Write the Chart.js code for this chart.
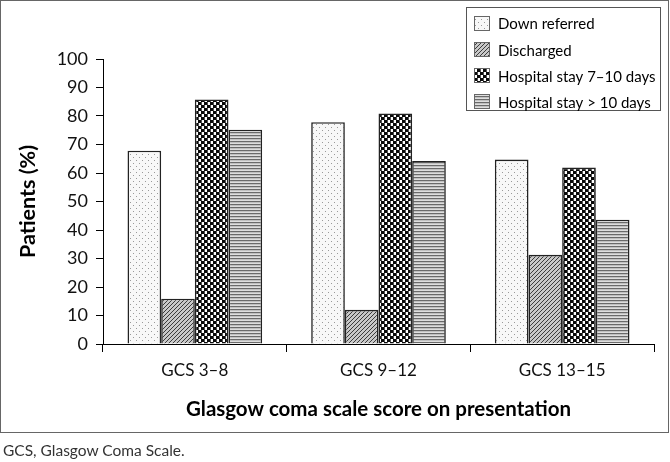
<!DOCTYPE html>
<html>
<head>
<meta charset="utf-8">
<script src="https://cdn.jsdelivr.net/npm/chart.js@4"></script>
<style>
  html, body { margin: 0; padding: 0; background: #fff; }
  #wrap { position: relative; width: 670px; height: 462px; overflow: hidden; }
  #frame { position: absolute; left: 0; top: 0; width: 667px; height: 431px; border: 1px solid #666; box-sizing: content-box; }
  #c { position: absolute; left: 0; top: 0; }
  #note { position: absolute; left: 3px; top: 441px; font: 15.5px Lato, sans-serif; color: #333; white-space: nowrap; }
</style>
</head>
<body>
<div id="wrap">
  <div id="frame"></div>
  <canvas id="c" width="670" height="462"></canvas>
  <div id="note">GCS, Glasgow Coma Scale.</div>
</div>
<script>
const categories = ['GCS 3–8', 'GCS 9–12', 'GCS 13–15'];
const seriesLabels = ['Down referred', 'Discharged', 'Hospital stay 7–10 days', 'Hospital stay > 10 days'];
const downReferred = [67.8, 77.8, 64.7];
const discharged = [15.9, 12.0, 31.3];
const stay7to10 = [85.8, 80.9, 61.9];
const stayOver10 = [75.2, 64.2, 43.6];
const yAxisTitle = 'Patients (%)';
const xAxisTitle = 'Glasgow coma scale score on presentation';

function makePattern(w, h, draw) {
  const cv = document.createElement('canvas');
  cv.width = w; cv.height = h;
  const g = cv.getContext('2d');
  draw(g);
  return document.getElementById('c').getContext('2d').createPattern(cv, 'repeat');
}
const patDots = makePattern(6, 6, g => {
  g.fillStyle = '#f8f8f8'; g.fillRect(0, 0, 6, 6);
  g.fillStyle = '#9a9a9a'; g.fillRect(1, 1, 1, 1); g.fillRect(4, 4, 1, 1);
});
const patDiag = makePattern(4, 4, g => {
  g.fillStyle = '#c8c8c8'; g.fillRect(0, 0, 4, 4);
  g.fillStyle = '#3c3c3c';
  g.fillRect(3, 0, 1, 1); g.fillRect(2, 1, 1, 1); g.fillRect(1, 2, 1, 1); g.fillRect(0, 3, 1, 1);
});
const patCheck = makePattern(6, 6, g => {
  g.fillStyle = '#ffffff'; g.fillRect(0, 0, 6, 6);
  g.fillStyle = '#0a0a0a'; g.fillRect(0, 0, 3, 3); g.fillRect(3, 3, 3, 3);
  g.fillStyle = '#555'; g.fillRect(0, 3, 1, 3); g.fillRect(3, 0, 1, 3);
});
const patHoriz = makePattern(1, 3, g => {
  g.fillStyle = '#6a6a6a'; g.fillRect(0, 0, 1, 1);
  g.fillStyle = '#c0c0c0'; g.fillRect(0, 1, 1, 1);
  g.fillStyle = '#dedede'; g.fillRect(0, 2, 1, 1);
});
const patterns = [patDots, patDiag, patCheck, patHoriz];
const seriesValues = [downReferred, discharged, stay7to10, stayOver10];

const boxLegend = {
  id: 'boxLegend',
  afterDraw(chart) {
    const ctx = chart.ctx;
    const x0 = 466.5, y0 = 7.5, w = 194, h = 103;
    ctx.save();
    ctx.fillStyle = '#fff';
    ctx.fillRect(x0, y0, w, h);
    ctx.strokeStyle = '#555'; ctx.lineWidth = 1;
    ctx.strokeRect(x0, y0, w, h);
    ctx.font = '15px Lato, sans-serif';
    ctx.textBaseline = 'middle';
    chart.data.datasets.forEach((ds, i) => {
      const cy = 23.5 + i * 26.2;
      ctx.fillStyle = ds.backgroundColor;
      ctx.fillRect(474, Math.round(cy - 8), 16, 15);
      ctx.strokeStyle = '#666';
      ctx.strokeRect(474.5, Math.round(cy - 8) + 0.5, 15, 14);
      ctx.fillStyle = '#000';
      ctx.fillText(ds.label, 498, cy + 1);
    });
    ctx.restore();
  }
};

new Chart(document.getElementById('c'), {
  type: 'bar',
  data: {
    labels: categories,
    datasets: seriesLabels.map((lab, i) => ({
      label: lab,
      data: seriesValues[i],
      backgroundColor: patterns[i],
      borderColor: '#222',
      borderWidth: 1.6,
      borderSkipped: 'bottom',
      categoryPercentage: 0.733,
      barPercentage: 1.0
    }))
  },
  options: {
    responsive: false,
    animation: false,
    devicePixelRatio: 1,
    layout: { padding: { top: 59, right: 16, bottom: 0, left: 0 } },
    plugins: { legend: { display: false }, tooltip: { enabled: false } },
    scales: {
      x: {
        afterFit(s) { s.height = 118; },
        grid: { display: true, drawOnChartArea: false, drawTicks: true, tickLength: 8, color: '#000', lineWidth: 1, offset: true },
        border: { display: true, color: '#000', width: 1 },
        ticks: { color: '#111', font: { family: 'Lato', size: 17 }, padding: 8 },
        title: { display: true, text: xAxisTitle, color: '#000', font: { family: 'Lato', size: 20.5, weight: 'bold' }, padding: { top: 0, bottom: 40 } }
      },
      y: {
        min: 0, max: 100,
        afterFit(s) { s.width = 103; },
        grid: { display: true, drawOnChartArea: false, drawTicks: true, tickLength: 7, color: '#000', lineWidth: 1 },
        border: { display: true, color: '#000', width: 1 },
        ticks: { stepSize: 10, color: '#111', font: { family: 'Lato', size: 18 }, padding: 8 },
        title: { display: true, text: yAxisTitle, color: '#000', font: { family: 'Lato', size: 21.5, weight: 'bold' }, padding: { top: 15, bottom: 0 } }
      }
    }
  },
  plugins: [boxLegend]
});
</script>
</body>
</html>
